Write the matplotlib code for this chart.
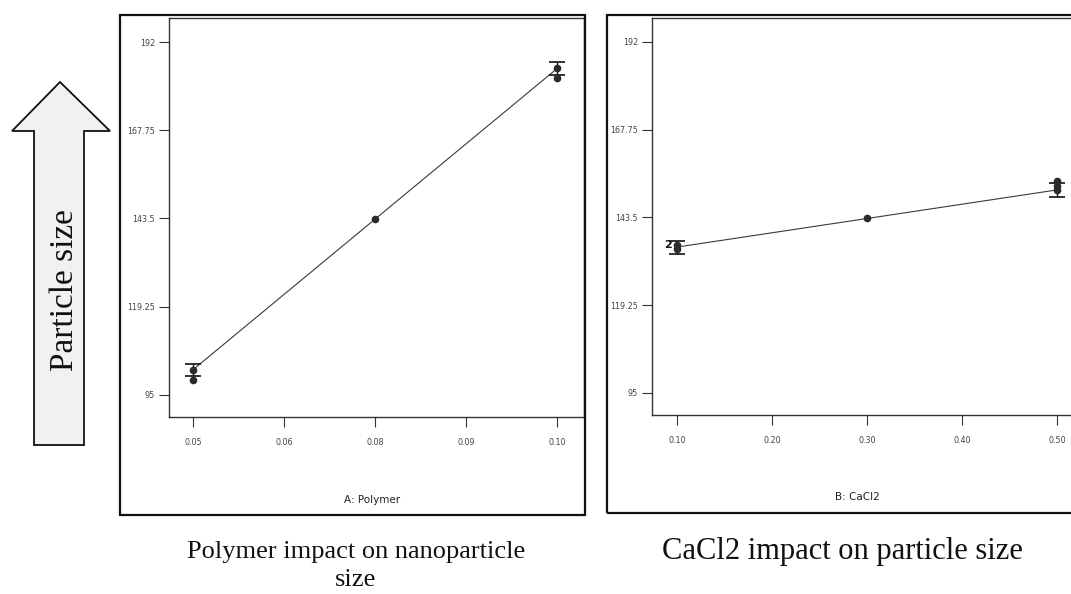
import matplotlib
matplotlib.use("Agg")
import matplotlib.pyplot as plt
from matplotlib.patches import Polygon, Rectangle

# one-factor effect data (predicted response, LSD half-width, design points)
polymer_levels = [0.05, 0.075, 0.10]
polymer_pred = [101.9, 143.3, 184.7]
polymer_lsd = [1.7, 0.0, 1.8]
polymer_obs_x = [0.05, 0.05, 0.075, 0.10, 0.10]
polymer_obs_y = [101.9, 99.1, 143.3, 184.8, 182.1]
polymer_ticks = [0.05, 0.0625, 0.075, 0.0875, 0.10]
polymer_ticklabels = ["0.05", "0.06", "0.08", "0.09", "0.10"]

cacl2_levels = [0.10, 0.30, 0.50]
cacl2_pred = [135.3, 143.2, 151.1]
cacl2_lsd = [1.8, 0.0, 1.9]
cacl2_obs_x = [0.10, 0.10, 0.30, 0.50, 0.50, 0.50]
cacl2_obs_y = [136.0, 134.9, 143.2, 152.3, 151.1, 153.6]
cacl2_ticks = [0.10, 0.20, 0.30, 0.40, 0.50]
cacl2_ticklabels = ["0.10", "0.20", "0.30", "0.40", "0.50"]

y_ticks = [95, 119.25, 143.5, 167.75, 192]
y_ticklabels = ["95", "119.25", "143.5", "167.75", "192"]

W, H = 1071, 594
fig = plt.figure(figsize=(W / 100, H / 100), dpi=100)
fig.patch.set_facecolor("white")


def px_box(x0, y0, x1, y1):
    """Pixel box (top-left origin) -> figure-fraction [l, b, w, h]."""
    return [x0 / W, 1 - y1 / H, (x1 - x0) / W, (y1 - y0) / H]


def effect_panel(rect, levels, pred, lsd, obs_x, obs_y, ticks, ticklabels,
                 xlim, xlabel, label_x):
    ax = fig.add_axes(rect)
    ax.plot(levels, pred, color="#3a3a3a", lw=0.8, zorder=2)
    for x, y, e in zip(levels, pred, lsd):
        if e > 0:
            ax.errorbar([x], [y], yerr=[e], fmt="none", ecolor="#111111",
                        elinewidth=1.0, capsize=5.5, capthick=1.2, zorder=3)
    ax.plot(obs_x, obs_y, "o", color="#2b2b2b", ms=4.5, zorder=4)
    ax.set_xlim(*xlim)
    ax.set_ylim(88.9, 198.6)
    ax.set_xticks(ticks)
    ax.set_xticklabels(ticklabels)
    ax.set_yticks(y_ticks)
    ax.set_yticklabels(y_ticklabels)
    ax.tick_params(axis="both", direction="out", length=7, width=0.8,
                   color="#333333", labelsize=5.8, labelcolor="#444444")
    ax.tick_params(axis="x", pad=8)
    ax.tick_params(axis="y", pad=3)
    for s in ax.spines.values():
        s.set_color("#333333")
        s.set_linewidth(1.0)
    ax.set_xlabel(xlabel, fontsize=7.5, color="#222222")
    ax.xaxis.set_label_coords(label_x, -0.195)
    return ax


ax1 = effect_panel(px_box(169, 18, 584, 417), polymer_levels, polymer_pred,
                   polymer_lsd, polymer_obs_x, polymer_obs_y, polymer_ticks,
                   polymer_ticklabels, (0.0467, 0.1037), "A: Polymer", 0.49)

ax2 = effect_panel(px_box(652, 18, 1078, 415), cacl2_levels, cacl2_pred,
                   cacl2_lsd, cacl2_obs_x, cacl2_obs_y, cacl2_ticks,
                   cacl2_ticklabels, (0.0737, 0.522), "B: CaCl2", 0.481)
ax2.text(cacl2_levels[0], cacl2_obs_y[0], "2 ", ha="right", va="center",
         fontsize=8, fontweight="bold", color="#111111")

# frames around each panel
for x0, y0, x1, y1 in [(120, 15, 585, 515), (607, 15, 1080, 513)]:
    l, b, w, h = px_box(x0, y0, x1, y1)
    fig.patches.append(Rectangle((l, b), w, h, transform=fig.transFigure,
                                 fill=False, edgecolor="#111111", lw=1.6))

# big hollow arrow on the left
arrow_px = [(60, 82), (110, 131), (84, 131), (84, 445),
            (34, 445), (34, 131), (12, 131)]
arrow = Polygon([(x / W, 1 - y / H) for x, y in arrow_px], closed=True,
                transform=fig.transFigure, facecolor="#f1f1f1",
                edgecolor="#111111", lw=1.3)
fig.patches.append(arrow)
fig.text(65 / W, 1 - 290 / H, "Particle size", rotation=90, ha="center",
         va="center", fontsize=24, family="Liberation Serif", color="#111111")

fig.text(356 / W, 1 - 566 / H, "Polymer impact on nanoparticle\nsize",
         ha="center", va="center", fontsize=19, family="Liberation Serif",
         color="#111111", linespacing=1.3)
fig.text(842 / W, 1 - 551 / H, "CaCl2 impact on particle size",
         ha="center", va="center", fontsize=22, family="Liberation Serif",
         color="#111111")

fig.savefig("out.png", dpi=100)
